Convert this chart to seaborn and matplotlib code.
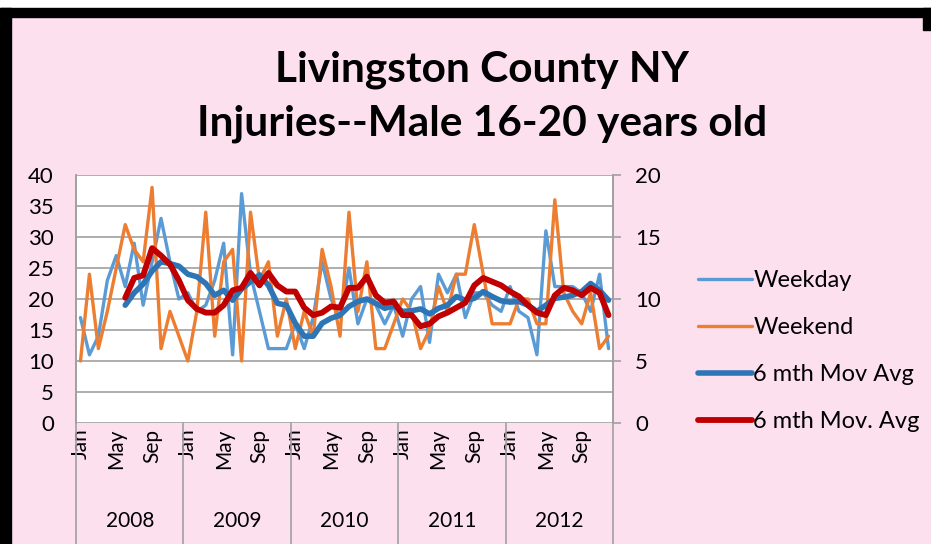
import matplotlib
matplotlib.use('Agg')

import numpy as np
import pandas as pd
import seaborn as sns
import matplotlib.pyplot as plt
import matplotlib.transforms as mtransforms
from matplotlib.lines import Line2D
from matplotlib.patches import Rectangle

# ---- data (Jan 2008 .. Dec 2012) ----
years = ['2008', '2009', '2010', '2011', '2012']
month_labels = ['Jan', 'May', 'Sep']

weekday = [17, 11, 14, 23, 27, 22, 29, 19, 26, 33, 26, 20,
           21, 18, 19, 23, 29, 11, 37, 24, 18, 12, 12, 12,
           16, 12, 17, 26, 20, 17, 25, 16, 20, 19, 16, 19,
           14, 20, 22, 13, 24, 21, 24, 17, 21, 21, 19, 18,
           22, 18, 17, 11, 31, 22, 22, 22, 21, 18, 24, 12]

weekend = [10, 24, 12, 18, 25, 32, 28, 26, 38, 12, 18, 14,
           10, 18, 34, 14, 26, 28, 10, 34, 23, 26, 14, 20,
           12, 18, 14, 28, 22, 14, 34, 18, 26, 12, 12, 16,
           20, 18, 12, 15, 22, 18, 24, 24, 32, 24, 16, 16,
           16, 20, 20, 16, 16, 36, 21, 18, 16, 21, 12, 14]

# 6 month moving average of weekday (left axis)
weekday_avg = [np.nan] * 5 + [
    19.0, 21.0, 22.4, 24.5, 26.0, 25.7, 25.3,
    24.0, 23.6, 22.5, 20.6, 21.4, 19.8, 21.6, 22.8, 23.9, 22.2, 19.3, 19.0,
    16.1, 14.0, 14.0, 16.1, 16.9, 17.4, 18.8, 19.6, 20.0, 19.3, 18.5, 18.9,
    18.0, 18.1, 18.4, 17.6, 18.5, 19.0, 20.4, 19.8, 20.1, 21.2, 20.4, 19.7,
    19.5, 19.6, 19.0, 18.0, 19.0, 20.1, 20.3, 20.6, 21.2, 22.5, 21.4, 19.8]

# 6 month moving average of weekend (right axis)
weekend_avg = [np.nan] * 5 + [
    10.1, 11.7, 11.9, 14.1, 13.5, 12.8, 11.5,
    9.9, 9.2, 8.9, 8.9, 9.5, 10.7, 10.9, 12.1, 11.1, 12.1, 11.1, 10.6,
    10.6, 9.3, 8.7, 8.9, 9.4, 9.3, 10.9, 10.9, 11.8, 10.3, 9.7, 9.8,
    8.7, 8.7, 7.8, 8.0, 8.6, 8.9, 9.3, 9.7, 11.1, 11.7, 11.4, 11.1,
    10.6, 10.2, 9.5, 8.9, 8.7, 10.3, 10.9, 10.7, 10.3, 10.9, 10.5, 8.7]

df = pd.DataFrame({'m': np.arange(len(weekday)), 'Weekday': weekday, 'Weekend': weekend,
                   'wd_avg': weekday_avg, 'we_avg': weekend_avg})

sns.set_style('white')
plt.rcParams['font.family'] = ['Lato', 'DejaVu Sans']
plt.rcParams['text.color'] = 'black'
plt.rcParams['xtick.color'] = 'black'
plt.rcParams['ytick.color'] = 'black'

pink = '#fde0ee'
grid_col = '#a0a0a0'
c_wd, c_we, c_wd_avg, c_we_avg = '#5b9bd5', '#ed7d31', '#2e75b6', '#c00000'

fig = plt.figure(figsize=(9.31, 5.44), dpi=100)
fig.patch.set_facecolor(pink)

ax = fig.add_axes([76 / 931, 1 - 423 / 544, 537 / 931, 248 / 544])
ax.set_facecolor('white')

sns.lineplot(data=df, x='m', y='Weekday', ax=ax, color=c_wd, lw=2.4)
sns.lineplot(data=df, x='m', y='Weekend', ax=ax, color=c_we, lw=2.4)
sns.lineplot(data=df, x='m', y='wd_avg', ax=ax, color=c_wd_avg, lw=4.0)

ax2 = ax.twinx()
sns.lineplot(data=df, x='m', y='we_avg', ax=ax2, color=c_we_avg, lw=4.2)

# left axis
ax.set_ylim(0, 40)
ax.set_yticks(range(0, 41, 5))
ax.grid(axis='y', color=grid_col, lw=1.2)
ax.grid(axis='x', visible=False)
ax.set_axisbelow(True)
ax.set_ylabel('')
ax.set_xlabel('')
ax.tick_params(axis='y', labelsize=16, length=0, pad=16)

# right axis
ax2.set_ylim(0, 20)
ax2.set_yticks(range(0, 21, 5))
ax2.set_ylabel('')
ax2.tick_params(axis='y', labelsize=16, length=6, width=1.2, color=grid_col,
                direction='out', pad=10, labelcolor='black')

for a in (ax, ax2):
    for side in ('top', 'bottom'):
        a.spines[side].set_visible(False)
    for side in ('left', 'right'):
        a.spines[side].set_color(grid_col)
        a.spines[side].set_linewidth(1.2)

# category axis: months + year groups
ax.set_xlim(-0.5, len(weekday) - 0.5)
tick_pos = [y * 12 + k * 4 for y in range(len(years)) for k in range(3)]
ax.set_xticks(tick_pos)
ax.set_xticklabels(month_labels * len(years), rotation=90, fontsize=15, va='top')
ax.tick_params(axis='x', length=0, pad=4)

trans = mtransforms.blended_transform_factory(ax.transData, ax.transAxes)
for k, yr in enumerate(years):
    ax.text(k * 12 + 5.5, -0.395, yr, transform=trans, ha='center', va='center', fontsize=15)
for k in range(len(years) + 1):
    ax.plot([k * 12 - 0.5, k * 12 - 0.5], [0, -0.5], transform=trans, color=grid_col,
            lw=1.2, clip_on=False)

# titles
fig.text(0.518, 1 - 70 / 544, 'Livingston County NY', ha='center', va='center',
         fontsize=30.5, weight='bold')
fig.text(0.518, 1 - 124 / 544, 'Injuries--Male 16-20 years old', ha='center', va='center',
         fontsize=30.5, weight='bold')

# legend
handles = [Line2D([], [], color=c_wd, lw=2.4),
           Line2D([], [], color=c_we, lw=2.4),
           Line2D([], [], color=c_wd_avg, lw=4.0),
           Line2D([], [], color=c_we_avg, lw=4.2)]
labels = ['Weekday', 'Weekend', '6 mth Mov Avg', '6 mth Mov. Avg']
fig.legend(handles, labels, loc='center left', bbox_to_anchor=(686 / 931, 1 - 351 / 544),
           frameon=False, fontsize=17, handlelength=2.3, handletextpad=0.05,
           labelspacing=1.1, borderpad=0)

# white margin above and black frame around the chart
fig.patches.append(Rectangle((0, 1 - 8 / 544), 1, 8 / 544, transform=fig.transFigure,
                             color='white', zorder=10))
fig.patches.append(Rectangle((0, 0), 11 / 931, 1 - 8 / 544, transform=fig.transFigure,
                             color='black', zorder=10))
fig.patches.append(Rectangle((0, 1 - 17 / 544), 1, 9 / 544, transform=fig.transFigure,
                             color='black', zorder=10))
fig.patches.append(Rectangle((1 - 8 / 931, 1 - 30 / 544), 8 / 931, 22 / 544,
                             transform=fig.transFigure, color='black', zorder=10))

plt.savefig('out.png', dpi=100, facecolor=fig.get_facecolor())
plt.close()
